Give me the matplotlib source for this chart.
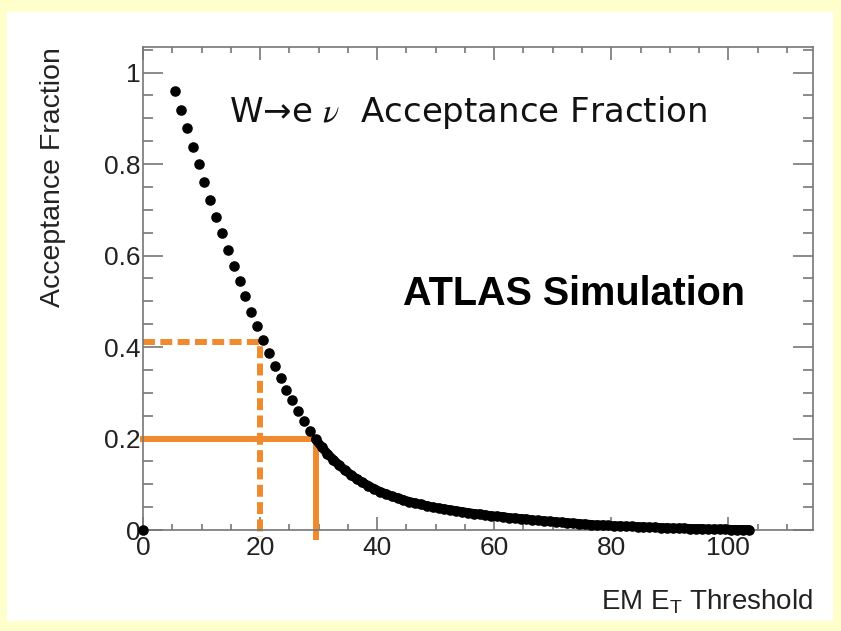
import matplotlib
matplotlib.use("Agg")
import matplotlib.pyplot as plt
from matplotlib.patches import Rectangle
from matplotlib.ticker import MultipleLocator

plt.rcParams["font.family"] = ["Liberation Sans", "DejaVu Sans"]
plt.rcParams["mathtext.fontset"] = "custom"
plt.rcParams["mathtext.rm"] = "Liberation Sans"
plt.rcParams["mathtext.it"] = "Liberation Sans:italic"

# EM E_T threshold (bin centres) and acceptance fraction
threshold = [0.0,
             5.5, 6.5, 7.5, 8.5, 9.5, 10.5, 11.5, 12.5, 13.5, 14.5,
             15.5, 16.5, 17.5, 18.5, 19.5, 20.5, 21.5, 22.5, 23.5, 24.5,
             25.5, 26.5, 27.5, 28.5, 29.5, 30.5, 31.5, 32.5, 33.5, 34.5,
             35.5, 36.5, 37.5, 38.5, 39.5, 40.5, 41.5, 42.5, 43.5, 44.5,
             45.5, 46.5, 47.5, 48.5, 49.5, 50.5, 51.5, 52.5, 53.5, 54.5,
             55.5, 56.5, 57.5, 58.5, 59.5, 60.5, 61.5, 62.5, 63.5, 64.5,
             65.5, 66.5, 67.5, 68.5, 69.5, 70.5, 71.5, 72.5, 73.5, 74.5,
             75.5, 76.5, 77.5, 78.5, 79.5, 80.5, 81.5, 82.5, 83.5, 84.5,
             85.5, 86.5, 87.5, 88.5, 89.5, 90.5, 91.5, 92.5, 93.5, 94.5,
             95.5, 96.5, 97.5, 98.5, 99.5, 100.5, 101.5, 102.5, 103.5]
acceptance = [0.0,
              0.960, 0.918, 0.878, 0.838, 0.800, 0.761, 0.722, 0.685, 0.649, 0.613,
              0.578, 0.544, 0.511, 0.477, 0.446, 0.416, 0.386, 0.359, 0.333, 0.307,
              0.284, 0.260, 0.238, 0.217, 0.198, 0.182, 0.167, 0.154, 0.142, 0.131,
              0.121, 0.112, 0.104, 0.097, 0.090, 0.084, 0.079, 0.074, 0.070, 0.066,
              0.062, 0.059, 0.056, 0.053, 0.050, 0.048, 0.046, 0.044, 0.042, 0.040,
              0.038, 0.036, 0.035, 0.033, 0.031, 0.030, 0.029, 0.027, 0.026, 0.025,
              0.024, 0.022, 0.021, 0.020, 0.019, 0.018, 0.017, 0.016, 0.015, 0.014,
              0.013, 0.012, 0.011, 0.011, 0.010, 0.009, 0.009, 0.008, 0.008, 0.007,
              0.007, 0.006, 0.006, 0.005, 0.005, 0.004, 0.004, 0.004, 0.003, 0.003,
              0.003, 0.002, 0.002, 0.002, 0.002, 0.001, 0.001, 0.001, 0.001]

# orange guide lines: (threshold, acceptance)
dashed_guide = (20.0, 0.41)
solid_guide = (29.6, 0.20)

orange = "#EF8A2F"
frame = "#777777"

fig = plt.figure(figsize=(8.41, 6.31), dpi=100, facecolor="#FFFFCC")
fig.patches.append(Rectangle((7 / 841, 10 / 631), 826 / 841, 609 / 631,
                             transform=fig.transFigure, facecolor="white",
                             edgecolor="none", zorder=-1))

ax = fig.add_axes([0.170, 0.160, 0.797, 0.7655])
ax.set_xlim(0, 114.5)
ax.set_ylim(0, 1.056)

# guide lines drawn under the markers, running a little below the axis
x0, y0 = dashed_guide
ax.plot([0, x0, x0], [y0, y0, -0.015], color=orange, lw=4.3,
        dashes=(2.0, 0.9), solid_capstyle="butt", clip_on=False, zorder=2)
x1, y1 = solid_guide
ax.plot([0, x1, x1], [y1, y1, -0.015], color=orange, lw=4.3,
        clip_on=False, zorder=2)

ax.plot(threshold, acceptance, "o", color="black", ms=6.6, mec="black",
        clip_on=False, zorder=3)
# beyond ~30 the markers merge into a solid band
tail = [i for i, t in enumerate(threshold) if t >= 29.5]
ax.plot([threshold[i] for i in tail], [acceptance[i] for i in tail], "-",
        color="black", lw=6.6, solid_capstyle="round", zorder=3)

for s in ax.spines.values():
    s.set_color(frame)
    s.set_linewidth(1.2)

ax.xaxis.set_major_locator(MultipleLocator(20))
ax.xaxis.set_minor_locator(MultipleLocator(5))
ax.yaxis.set_major_locator(MultipleLocator(0.2))
ax.yaxis.set_minor_locator(MultipleLocator(0.05))
ax.tick_params(axis="both", which="both", direction="in", top=True, right=True,
               color=frame, width=1.2, labelcolor="#222222", labelsize=19)
ax.tick_params(axis="x", which="major", length=9.5, pad=4)
ax.tick_params(axis="x", which="minor", length=4.5)
ax.tick_params(axis="y", which="major", length=14.5, pad=2)
ax.tick_params(axis="y", which="minor", length=7.2)
ax.set_xticks([0, 20, 40, 60, 80, 100])
ax.set_xticklabels(["0", "20", "40", "60", "80", "100"])
ax.set_yticks([0, 0.2, 0.4, 0.6, 0.8, 1.0])
ax.set_yticklabels(["0", "0.2", "0.4", "0.6", "0.8", "1"])

ax.set_ylabel("Acceptance Fraction", fontsize=20.5, color="#222222", loc="top")
ax.yaxis.set_label_coords(-0.115, 1.0)
ax.set_xlabel(r"EM E$_{\mathrm{T}}$ Threshold", fontsize=20, color="#222222", loc="right")
ax.xaxis.set_label_coords(1.0, -0.118)

ax.text(0.128, 0.845, "W\u2192e $\\nu$  Acceptance Fraction",
        transform=ax.transAxes, fontsize=24.5, family="DejaVu Sans",
        math_fontfamily="stix", va="baseline", ha="left", color="#111111")
ax.text(0.388, 0.466, "ATLAS Simulation", transform=ax.transAxes,
        fontsize=28.5, fontweight="bold", va="baseline", ha="left", color="black")

fig.savefig("out.png", dpi=100, facecolor=fig.get_facecolor())
